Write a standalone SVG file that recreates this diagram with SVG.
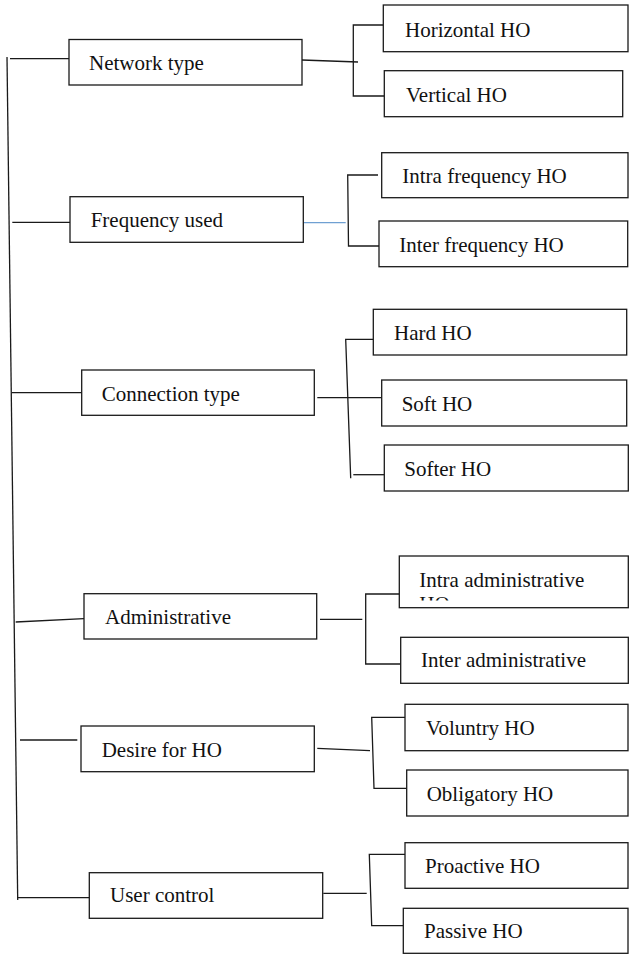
<svg xmlns="http://www.w3.org/2000/svg" width="629" height="954" viewBox="0 0 629 954">
<style>
.box{fill:#fff;stroke:#1a1a1a;stroke-width:1.3}
.ln{stroke:#1a1a1a;stroke-width:1.3;fill:none}
.blue{stroke:#6fa0d2;stroke-width:1.3;fill:none}
text{font-family:"Liberation Serif","Times New Roman",serif;font-size:21px;fill:#111}
</style>
<defs>
<clipPath id="clipIntraAdm"><rect x="400" y="557" width="228" height="43.5"/></clipPath>
</defs>
<rect width="629" height="954" fill="#fff"/>
<g id="connectors">
<line class="ln" x1="7" y1="57" x2="17.7" y2="900"/>
<line class="ln" x1="10" y1="58.7" x2="69" y2="58.7"/>
<line class="ln" x1="12.3" y1="222.3" x2="70" y2="222.3"/>
<line class="ln" x1="11.7" y1="392.7" x2="81.7" y2="392.7"/>
<line class="ln" x1="15.7" y1="622" x2="84" y2="618.7"/>
<line class="ln" x1="20" y1="740" x2="77.3" y2="740"/>
<line class="ln" x1="17.7" y1="897.7" x2="94" y2="897.7"/>
<line class="ln" x1="302" y1="60" x2="358" y2="62"/>
<polyline class="ln" points="383,25 353.3,25 353.3,96 384,96"/>
<line class="blue" x1="303.3" y1="222.7" x2="345.7" y2="222.7"/>
<polyline class="ln" points="378,175 347.7,175 348.5,246 379,246"/>
<line class="ln" x1="317.3" y1="397.7" x2="381.7" y2="397.7"/>
<polyline class="ln" points="373.3,339.3 345.7,339.3 350.7,478.3"/>
<line class="ln" x1="353.3" y1="474.7" x2="384.3" y2="474.7"/>
<line class="ln" x1="320" y1="619.3" x2="362.3" y2="619.3"/>
<polyline class="ln" points="399.3,594 365.7,594 365.7,664 400.7,664"/>
<line class="ln" x1="317.3" y1="748.3" x2="370" y2="750.7"/>
<polyline class="ln" points="405,717.3 371.7,717.3 374,788.3 406.7,788.3"/>
<line class="ln" x1="323.3" y1="893.3" x2="366.7" y2="893.3"/>
<polyline class="ln" points="405,854.3 369.3,854.3 371.7,925.7 403.3,925.7"/>
</g>
<g id="network-type"><rect class="box" x="69" y="39.5" width="233" height="45.5"/><text x="89" y="70">Network type</text></g>
<g id="horizontal-ho"><rect class="box" x="383.3" y="5" width="244.7" height="46.7"/><text x="405" y="36.5">Horizontal HO</text></g>
<g id="vertical-ho"><rect class="box" x="384.3" y="70.7" width="238.4" height="46"/><text x="406" y="101.7">Vertical HO</text></g>
<g id="frequency-used"><rect class="box" x="70" y="196.7" width="233.3" height="45.6"/><text x="90.7" y="227.3">Frequency used</text></g>
<g id="intra-frequency-ho"><rect class="box" x="381.7" y="152.7" width="246.3" height="45"/><text x="402.3" y="183.3">Intra frequency HO</text></g>
<g id="inter-frequency-ho"><rect class="box" x="379" y="221" width="248.7" height="45.7"/><text x="399.3" y="251.7">Inter frequency HO</text></g>
<g id="connection-type"><rect class="box" x="81.7" y="370" width="232.6" height="45.3"/><text x="101.7" y="400.5">Connection type</text></g>
<g id="hard-ho"><rect class="box" x="373.3" y="309.3" width="253.4" height="45.7"/><text x="394" y="340">Hard HO</text></g>
<g id="soft-ho"><rect class="box" x="381.7" y="380" width="245" height="46"/><text x="401.7" y="410.5">Soft HO</text></g>
<g id="softer-ho"><rect class="box" x="384.3" y="445" width="244" height="46"/><text x="404.3" y="476">Softer HO</text></g>
<g id="administrative"><rect class="box" x="84" y="593.7" width="232.7" height="45.3"/><text x="105" y="623.5">Administrative</text></g>
<g id="intra-administrative-ho"><rect class="box" x="399.3" y="556" width="229" height="51.7"/><text x="419.3" y="586.7">Intra administrative</text><text x="419.3" y="610.7" clip-path="url(#clipIntraAdm)">HO</text></g>
<g id="inter-administrative"><rect class="box" x="400.7" y="637.3" width="227.6" height="46"/><text x="421" y="666.7">Inter administrative</text></g>
<g id="desire-for-ho"><rect class="box" x="81" y="726" width="233.3" height="45.7"/><text x="101.7" y="756.7">Desire for HO</text></g>
<g id="voluntry-ho"><rect class="box" x="405" y="704.3" width="223" height="46.4"/><text x="426" y="735">Voluntry HO</text></g>
<g id="obligatory-ho"><rect class="box" x="406.7" y="770" width="221.3" height="46"/><text x="426.7" y="800.7">Obligatory HO</text></g>
<g id="user-control"><rect class="box" x="89.3" y="872.7" width="233.4" height="45.6"/><text x="110" y="901.7">User control</text></g>
<g id="proactive-ho"><rect class="box" x="405" y="842.7" width="223" height="45.6"/><text x="425" y="873.3">Proactive HO</text></g>
<g id="passive-ho"><rect class="box" x="403.3" y="908.3" width="224.7" height="45"/><text x="424" y="938.3">Passive HO</text></g>
</svg>
